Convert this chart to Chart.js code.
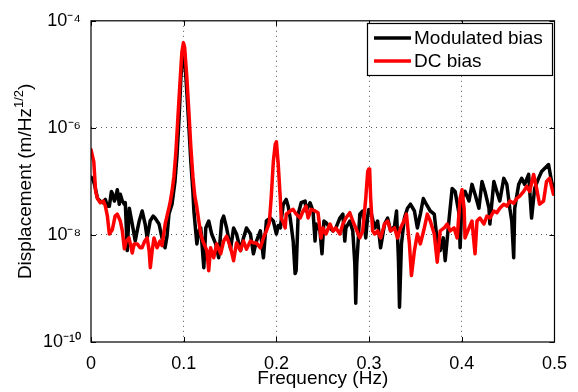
<!DOCTYPE html>
<html><head><meta charset="utf-8">
<script src="https://cdn.jsdelivr.net/npm/chart.js@4"></script>
<style>html,body{margin:0;padding:0;background:#fff}canvas{display:block}</style>
</head><body>
<canvas id="c" width="578" height="392"></canvas>
<script>
const freqModulated = [0,0.0016,0.0038,0.007,0.010,0.0123,0.0155,0.0177,0.0198,0.022,0.023,0.0252,0.0263,0.0284,0.0305,0.0316,0.0338,0.036,0.037,0.0391,0.0413,0.0445,0.0477,0.0498,0.052,0.0552,0.0584,0.0606,0.0638,0.067,0.0691,0.0734,0.0766,0.0799,0.082,0.0841,0.0874,0.0906,0.0927,0.0949,0.097,0.0997,0.101,0.1034,0.1056,0.1077,0.1099,0.111,0.1142,0.1163,0.1184,0.1217,0.1238,0.127,0.1302,0.1345,0.1377,0.141,0.1431,0.1463,0.1506,0.1538,0.157,0.1613,0.1645,0.1677,0.172,0.1752,0.1785,0.1827,0.186,0.1892,0.1935,0.1967,0.2,0.202,0.2042,0.2074,0.2106,0.2127,0.2149,0.2181,0.2202,0.2213,0.2235,0.2267,0.231,0.232,0.2363,0.2395,0.2417,0.2428,0.247,0.2492,0.2513,0.2535,0.2578,0.261,0.2642,0.2685,0.2717,0.2738,0.275,0.2792,0.2824,0.2846,0.2856,0.2867,0.29,0.2931,0.2964,0.2985,0.2996,0.3017,0.306,0.3092,0.3124,0.3167,0.32,0.3232,0.3274,0.3296,0.3317,0.3328,0.3349,0.3381,0.3414,0.3446,0.3489,0.3521,0.3553,0.3585,0.3617,0.366,0.3703,0.3735,0.3767,0.38,0.3821,0.3864,0.3896,0.3928,0.3971,0.3982,0.4003,0.4035,0.4078,0.411,0.4143,0.4185,0.4218,0.425,0.4293,0.4303,0.4346,0.4378,0.441,0.4453,0.4486,0.4518,0.4539,0.456,0.4571,0.4614,0.4646,0.4678,0.4721,0.4753,0.4786,0.4828,0.4861,0.4893,0.4936,0.4968,0.5];
const dispModulated = [1.2e-7,1.14e-7,8.8e-8,4.8e-8,4.3e-8,4.0e-8,4.6e-8,3.45e-8,3.45e-8,6.5e-8,6.0e-8,4.3e-8,4.8e-8,7.0e-8,3.75e-8,5.75e-8,4.3e-8,3.75e-8,4.0e-8,5.1e-9,3.16e-8,1.6e-8,7.7e-9,1.19e-8,1.82e-8,2.8e-8,1.6e-8,8.8e-9,1.82e-8,2.25e-8,2.07e-8,1.6e-8,8.8e-9,5.75e-9,9.5e-9,2.45e-8,3.75e-8,1.0e-7,2.9e-7,1.4e-6,8.8e-6,3.2e-5,2.1e-5,4.6e-6,1.05e-6,2.35e-7,6.5e-8,2.8e-8,6.8e-9,1.19e-8,1.35e-8,2.45e-9,1.35e-8,1.82e-8,1.04e-8,6.8e-9,3.75e-9,1.82e-8,2.25e-8,1.35e-8,5.5e-9,1.35e-8,1.04e-8,5.1e-9,8.8e-9,1.35e-8,1.04e-8,4.45e-9,7.7e-9,1.19e-8,3.75e-9,1.82e-8,2.07e-8,1.82e-8,1.04e-8,1.5e-8,1.35e-8,3.75e-8,4.6e-8,3.45e-8,2.07e-8,7.7e-9,1.9e-9,2.15e-9,2.45e-8,4.0e-8,4.3e-8,2.8e-8,4.0e-8,2.8e-8,7.7e-9,1.6e-8,1.19e-8,4.45e-9,1.82e-8,1.7e-8,1.35e-8,1.19e-8,1.35e-8,2.07e-8,2.45e-8,7.7e-9,1.35e-8,1.82e-8,1.19e-8,2.9e-9,5.3e-10,2.9e-9,2.45e-8,2.8e-8,8.8e-9,2.25e-8,3.0e-8,2.8e-8,1.35e-8,1.82e-8,5.75e-9,1.6e-8,2.07e-8,1.19e-8,1.45e-8,2.8e-8,3.3e-9,4.45e-10,6.8e-9,2.07e-8,3.16e-8,3.75e-8,2.8e-8,1.35e-8,2.45e-8,4.8e-8,3.75e-8,2.8e-8,2.45e-8,7.7e-9,5.1e-9,8.8e-9,3.3e-9,2.07e-8,7.4e-8,6.5e-8,2.45e-8,5.75e-9,4.8e-8,6.5e-8,4.3e-8,8.8e-8,5.75e-8,3.16e-8,1.0e-7,6.5e-8,3.16e-8,1.6e-8,1.0e-7,6.5e-8,4.3e-8,1.14e-7,8.8e-8,3.16e-8,1.82e-8,3.75e-9,3.16e-8,8.8e-8,1.14e-7,8.8e-8,1.35e-7,2.07e-8,7.4e-8,1.14e-7,1.53e-7,1.74e-7,2.07e-7,1.0e-7,6.5e-8];
const freqDC = [0,0.003,0.005,0.007,0.010,0.0134,0.0155,0.0177,0.0198,0.023,0.026,0.0284,0.0316,0.0338,0.036,0.038,0.041,0.0445,0.0466,0.050,0.053,0.055,0.058,0.0606,0.0627,0.064,0.066,0.068,0.0713,0.0745,0.0766,0.080,0.082,0.085,0.0874,0.0895,0.0916,0.0938,0.096,0.098,0.0997,0.101,0.1034,0.1056,0.1077,0.1099,0.112,0.114,0.1163,0.1184,0.1206,0.125,0.127,0.129,0.1324,0.1356,0.1399,0.1431,0.1463,0.1506,0.1538,0.157,0.1613,0.1645,0.1677,0.172,0.1752,0.1785,0.1827,0.186,0.1892,0.1924,0.1945,0.1967,0.1988,0.2,0.202,0.2042,0.2052,0.2074,0.2095,0.2106,0.2149,0.2181,0.2213,0.2256,0.2288,0.232,0.2342,0.2374,0.2417,0.2449,0.2481,0.2503,0.2535,0.2578,0.261,0.2642,0.2685,0.2717,0.275,0.2792,0.2824,0.2856,0.29,0.2931,0.2964,0.2985,0.2996,0.3006,0.3017,0.3038,0.306,0.3092,0.3124,0.3167,0.32,0.3232,0.3274,0.3307,0.3339,0.3381,0.3403,0.3435,0.3457,0.3489,0.3521,0.3553,0.3596,0.3628,0.366,0.3703,0.3735,0.3767,0.381,0.3842,0.3875,0.3917,0.395,0.3982,0.4003,0.4025,0.4035,0.4078,0.411,0.4143,0.4164,0.4196,0.4239,0.4271,0.4303,0.4346,0.4378,0.441,0.4453,0.4486,0.4518,0.456,0.4593,0.4625,0.4668,0.47,0.4732,0.4775,0.4807,0.4839,0.4882,0.4914,0.4947,0.4989];
const dispDC = [3.9e-7,2.35e-7,6.5e-8,4.8e-8,4.0e-8,4.3e-8,3.45e-8,2.25e-8,1.04e-8,1.25e-8,2.25e-8,2.45e-8,1.82e-8,1.19e-8,5.5e-9,7.7e-9,8.8e-9,4.6e-9,6.8e-9,6.8e-9,5.75e-9,5.75e-9,7.7e-9,8.8e-9,5.1e-9,2.45e-9,5.1e-9,8.8e-9,5.75e-9,7.7e-9,6.3e-9,1.6e-8,2.25e-8,3.75e-8,6.5e-8,1.25e-7,3.6e-7,1.6e-6,7.1e-6,2.55e-5,3.9e-5,3.2e-5,8.8e-6,2.0e-6,4.4e-7,1.25e-7,5.3e-8,3.45e-8,1.82e-8,1.04e-8,7.7e-9,5.1e-9,2.15e-9,5.75e-9,3.75e-9,6.8e-9,4.45e-9,7.7e-9,9.5e-9,5.75e-9,3.3e-9,7.1e-9,5.1e-9,7.7e-9,5.4e-9,7.7e-9,7.1e-9,7.1e-9,5.75e-9,8.8e-9,1.19e-8,1.7e-8,5.3e-8,2.35e-7,5.0e-7,5.5e-7,2.07e-7,4.8e-8,2.07e-8,1.7e-8,1.35e-8,2.45e-8,2.8e-8,3.0e-8,2.45e-8,2.07e-8,2.8e-8,3.45e-8,2.07e-8,3.0e-8,2.8e-8,2.6e-8,8.8e-9,1.35e-8,1.04e-8,1.6e-8,1.19e-8,1.35e-8,1.04e-8,1.6e-8,2.07e-8,2.6e-8,1.82e-8,1.35e-8,8.8e-9,1.19e-8,4.8e-8,1.53e-7,1.7e-7,1.7e-7,4.8e-8,1.19e-8,1.04e-8,1.19e-8,8.8e-9,1.6e-8,1.82e-8,1.19e-8,1.35e-8,8.8e-9,1.35e-8,1.9e-8,2.45e-8,6.8e-9,1.74e-9,5.1e-9,1.04e-8,6.8e-9,1.35e-8,2.45e-8,1.82e-8,1.04e-8,3.1e-9,1.19e-8,1.35e-8,1.6e-8,1.19e-8,1.35e-8,8.8e-9,4.8e-8,7.0e-8,3.16e-8,8.8e-9,1.35e-8,1.82e-8,4.45e-9,1.82e-8,2.07e-8,1.6e-8,2.25e-8,2.07e-8,2.8e-8,2.6e-8,3.16e-8,3.75e-8,3.45e-8,4.3e-8,3.9e-8,4.8e-8,5.3e-8,6.5e-8,8.1e-8,6.5e-8,1.35e-7,7.4e-8,3.75e-8,4.3e-8,1.0e-7,1.14e-7,5.75e-8];
const seriesNames = ['Modulated bias', 'DC bias'];
const xTickValues = [0, 0.1, 0.2, 0.3, 0.4, 0.5];
const xTickLabels = ['0', '0.1', '0.2', '0.3', '0.4', '0.5'];
const yTickValues = [1e-10, 1e-8, 1e-6, 1e-4];
const yTickLabels = ['10\u207B\u00B9\u2070', '10\u207B\u2078', '10\u207B\u2076', '10\u207B\u2074'];
const xTitle = 'Frequency (Hz)';
const yTitleMain = 'Displacement (m/Hz';
const yTitleSup = '1/2';
const yTitleEnd = ')';

const FONT = "'Liberation Sans', Arial, Helvetica, sans-serif";
const toPoints = (fs, vs) => fs.map((f, i) => ({x: f, y: vs[i]}));

const framePlugin = {
  id: 'frame',
  afterDraw(chart) {
    const {ctx, chartArea: a, scales: {x, y}} = chart;
    ctx.save();
    ctx.strokeStyle = '#000';
    ctx.lineWidth = 1.2;
    ctx.strokeRect(a.left, a.top, a.right - a.left, a.bottom - a.top);
    ctx.lineWidth = 1;
    ctx.beginPath();
    xTickValues.forEach(v => {
      const px = Math.round(x.getPixelForValue(v)) + 0.5;
      ctx.moveTo(px, a.bottom); ctx.lineTo(px, a.bottom - 5);
      ctx.moveTo(px, a.top); ctx.lineTo(px, a.top + 5);
    });
    yTickValues.forEach(v => {
      const py = Math.round(y.getPixelForValue(v)) + 0.5;
      ctx.moveTo(a.left, py); ctx.lineTo(a.left + 5, py);
      ctx.moveTo(a.right, py); ctx.lineTo(a.right - 5, py);
    });
    ctx.stroke();

    // legend
    const lx = 367, ly = 23, lw = 185, lh = 52;
    ctx.fillStyle = '#fff';
    ctx.fillRect(lx, ly, lw, lh);
    ctx.lineWidth = 1.2;
    ctx.strokeStyle = '#000';
    ctx.strokeRect(lx + 0.5, ly + 0.5, lw, lh);
    const colors = ['#000000', '#ff0000'];
    const rows = [38, 61];
    ctx.font = '19px ' + FONT;
    ctx.textBaseline = 'middle';
    ctx.textAlign = 'left';
    rows.forEach((ry, i) => {
      ctx.strokeStyle = colors[i];
      ctx.lineWidth = 3.5;
      ctx.beginPath(); ctx.moveTo(374, ry); ctx.lineTo(411, ry); ctx.stroke();
      ctx.fillStyle = '#000';
      ctx.fillText(seriesNames[i], 414, ry + 1);
    });

    // y title
    ctx.translate(31, (a.top + a.bottom) / 2);
    ctx.rotate(-Math.PI / 2);
    ctx.textBaseline = 'alphabetic';
    ctx.font = '19px ' + FONT;
    const w1 = ctx.measureText(yTitleMain).width;
    const w3 = ctx.measureText(yTitleEnd).width;
    ctx.font = '13px ' + FONT;
    const w2 = ctx.measureText(yTitleSup).width;
    const start = -(w1 + w2 + w3) / 2;
    ctx.fillStyle = '#000';
    ctx.font = '19px ' + FONT;
    ctx.fillText(yTitleMain, start, 0);
    ctx.font = '13px ' + FONT;
    ctx.fillText(yTitleSup, start + w1, -8);
    ctx.font = '19px ' + FONT;
    ctx.fillText(yTitleEnd, start + w1 + w2, 0);
    ctx.restore();
  }
};

new Chart(document.getElementById('c'), {
  type: 'line',
  data: {
    datasets: [
      {label: seriesNames[0], data: toPoints(freqModulated, dispModulated), borderColor: '#000000', borderWidth: 3.5, pointRadius: 0, tension: 0, borderJoinStyle: 'round', borderCapStyle: 'round', order: 2},
      {label: seriesNames[1], data: toPoints(freqDC, dispDC), borderColor: '#ff0000', borderWidth: 3.5, pointRadius: 0, tension: 0, borderJoinStyle: 'round', borderCapStyle: 'round', order: 1}
    ]
  },
  options: {
    responsive: false,
    animation: false,
    layout: {padding: {top: 18, right: 20, left: 0, bottom: 0}},
    plugins: {legend: {display: false}, tooltip: {enabled: false}},
    scales: {
      x: {
        type: 'linear', min: 0, max: 0.5,
        afterBuildTicks: s => { s.ticks = xTickValues.map(v => ({value: v})); },
        afterFit: s => { s.height = 50; },
        border: {display: false, dash: [1, 4]},
        grid: {
          drawTicks: false,
          color: c => (c.tick && c.tick.value > 0.001 && c.tick.value < 0.499) ? '#555555' : 'rgba(0,0,0,0)',
          lineWidth: 1
        },
        ticks: {
          padding: 11, color: '#000', font: {family: FONT, size: 18}, autoSkip: false, maxRotation: 0,
          callback: (v, i) => xTickLabels[i]
        },
        title: {display: true, text: xTitle, color: '#000', font: {family: FONT, size: 19}, padding: {top: 0, bottom: 2}}
      },
      y: {
        type: 'logarithmic', min: 1e-10, max: 1e-4,
        afterBuildTicks: s => { s.ticks = yTickValues.map(v => ({value: v})); },
        afterFit: s => { s.width = 91; },
        border: {display: false, dash: [1, 4]},
        grid: {
          drawTicks: false,
          color: c => (c.tick && c.tick.value > 1e-9 && c.tick.value < 1e-5) ? '#555555' : 'rgba(0,0,0,0)',
          lineWidth: 1
        },
        ticks: {
          padding: 10, color: '#000', font: {family: FONT, size: 18}, autoSkip: false,
          callback: (v, i) => yTickLabels[i]
        }
      }
    }
  },
  plugins: [framePlugin]
});
</script>
</body></html>
